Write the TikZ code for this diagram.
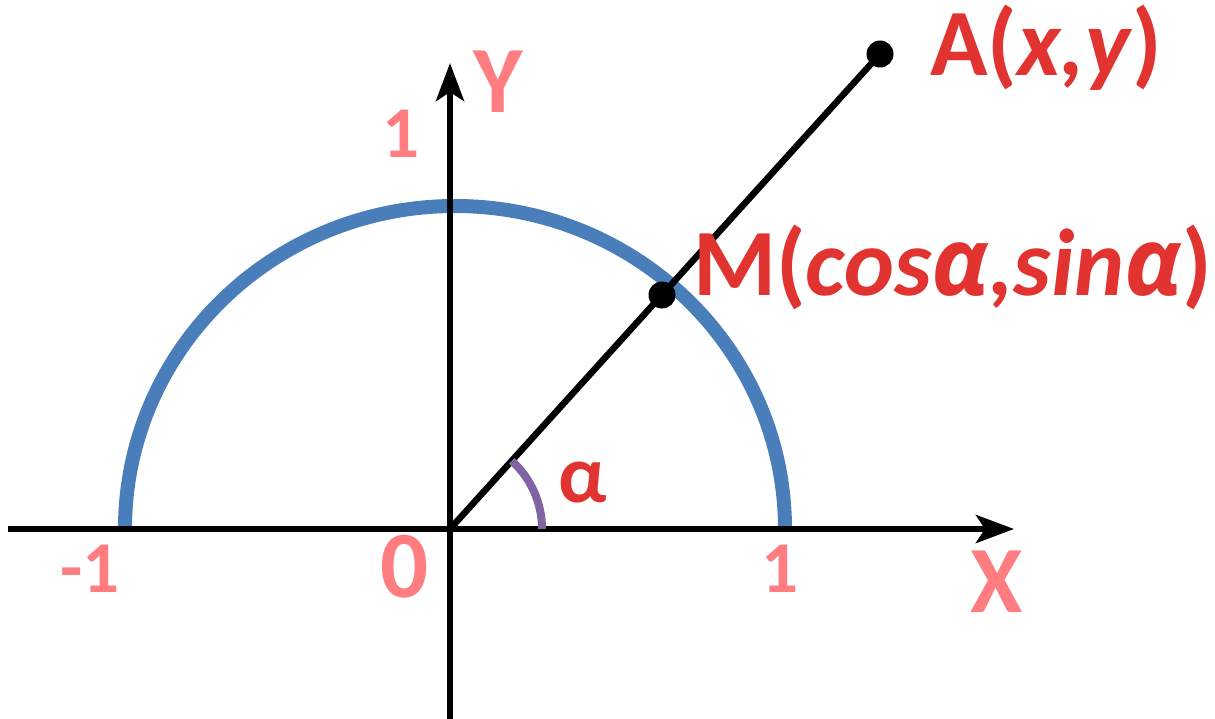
\documentclass[tikz,border=0pt]{standalone}
\usepackage{fontspec}
\setmainfont{Carlito}
\newfontfamily\alphafont{Open Sans}
\usetikzlibrary{arrows.meta}
\definecolor{lblred}{HTML}{E1332F}
\definecolor{lblpink}{HTML}{FF7C80}
\definecolor{arcblue}{HTML}{4A7EBB}
\definecolor{angpurple}{HTML}{8064A2}
\newcommand{\ialpha}{{\alphafont\bfseries\itshape α}}
\begin{document}
\begin{tikzpicture}[x=1bp,y=-1bp,
  axisline/.style={line width=6.5bp,-{Stealth[length=38bp,width=28bp,inset=9bp]}},
  dot/.style={circle,fill=black,inner sep=0pt,minimum size=27bp},
  pinkbig/.style={text=lblpink,font=\bfseries\fontsize{95bp}{100bp}\selectfont,inner sep=0pt,anchor=base},
  pinksmall/.style={text=lblpink,font=\bfseries\fontsize{73bp}{78bp}\selectfont,inner sep=0pt,anchor=base},
  redlbl/.style={text=lblred,font=\bfseries\fontsize{95bp}{100bp}\selectfont,inner sep=0pt,anchor=base west},
  alphalbl/.style={text=lblred,font=\bfseries\fontsize{82bp}{86bp}\selectfont,inner sep=0pt,anchor=base}
]
\useasboundingbox (0,0) rectangle (1215,719);
% coordinates
\coordinate (O) at (450,529);
\coordinate (xs) at (8,529);
\coordinate (xe) at (1014,529);
\coordinate (ys) at (450,719);
\coordinate (ye) at (450,63);
% semicircle
\draw[arcblue,line width=14bp] (125,529) arc[start angle=180,end angle=360,x radius=330,y radius=323];
% axes
\draw[axisline] (xs) -- (xe);
\draw[axisline] (ys) -- (ye);
% points
\node[dot] (A) at (880,54) {};
\node[dot] (M) at (662,295) {};
% ray
\draw[line width=6.5bp] (O) -- (A.center);
% angle arc
\draw[angpurple,line width=8bp] (542,529) arc[start angle=0,end angle=-47.8,radius=92];
% labels
\node[redlbl] (Alab) at (930,76) {A(\textit{x,y})};
\node[redlbl] (Mlab) at (693,295) {M(\textit{cos\ialpha,sin\ialpha})};
\node[alphalbl] (alab) at (583,502) {α};
\node[pinkbig] (Ylab) at (498,113) {Y};
\node[pinkbig] (Xlab) at (997,612) {X};
\node[pinkbig] (zero) at (405,597) {0};
\node[pinksmall] (oneY) at (401,158) {1};
\node[pinksmall] (oneX) at (780,592) {1};
\node[pinksmall] (mone) at (90,592) {-1};
\end{tikzpicture}
\end{document}
